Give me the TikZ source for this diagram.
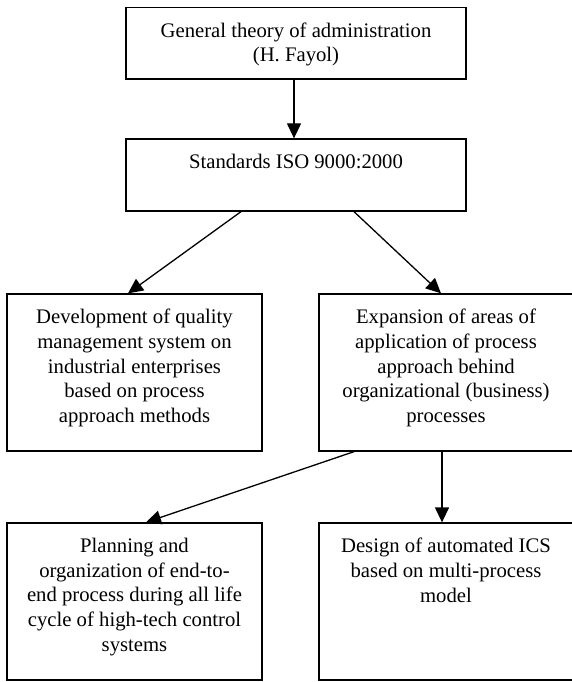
\documentclass[tikz,border=0pt]{standalone}
\usepackage{fontspec}
\setmainfont{Liberation Serif}
\usetikzlibrary{positioning,arrows.meta}

\begin{document}
\begin{tikzpicture}
  [x=1pt,y=-1pt,line width=1.3pt,
   box/.style={rectangle, draw, inner sep=0pt},
   txt/.style={inner sep=0pt, align=center, font=\fontsize{20.7}{24.8}\selectfont},
   arr/.style={-{Triangle[length=15pt,width=14pt]}}]
  \useasboundingbox (0,0) rectangle (571,682);

  \node[box, minimum width=340pt, minimum height=71.5pt] (b1) at (296,43.25) {};
  \node[box, minimum width=340pt, minimum height=72pt] (b2) at (296,175) {};
  \node[box, minimum width=255pt, minimum height=157pt] (b3) at (134.5,372.5) {};
   \node[box, minimum width=254pt, minimum height=157pt] (b4) at (446,372.5) {};
  \node[box, minimum width=255pt, minimum height=157pt] (b5) at (134.5,601.5) {};
   \node[box, minimum width=254pt, minimum height=157pt] (b6) at (446,601.5) {};

  \node[txt, below=15pt of b1.north] (t1) {General theory of administration\\(H. Fayol)};
  \node[txt, below=15pt of b2.north] (t2) {Standards ISO 9000:2000};
  \node[txt, below=15pt of b3.north] (t3) {Development of quality\\management system on\\industrial enterprises\\based on process\\approach methods};
  \node[txt, below=15pt of b4.north] (t4) {Expansion of areas of\\application of process\\approach behind\\organizational (business)\\processes};
  \node[txt, below=15pt of b5.north] (t5) {Planning and\\organization of end-to-\\end process during all life\\cycle of high-tech control\\systems};
  \node[txt, below=15pt of b6.north] (t6) {Design of automated ICS\\based on multi-process\\model};

  \draw[arr] ([xshift=-2pt]b1.south) -- ([xshift=-2pt]b2.north);
  \draw[arr] ([xshift=-55pt]b2.south) -- ([xshift=-6.5pt]b3.north);
  \draw[arr] ([xshift=58pt]b2.south) -- ([xshift=-5pt]b4.north);
  \draw[arr] ([xshift=-92pt]b4.south) -- ([xshift=11.5pt]b5.north);
  \draw[arr] ([xshift=-4pt]b4.south) -- ([xshift=-4pt]b6.north);
\end{tikzpicture}
\end{document}
